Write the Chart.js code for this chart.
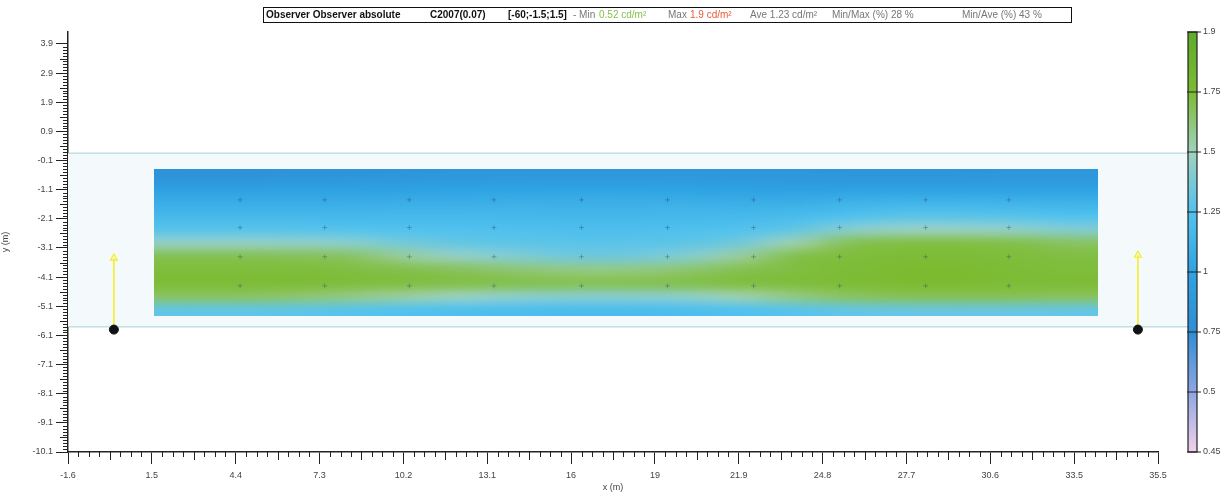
<!DOCTYPE html>
<html>
<head>
<meta charset="utf-8">
<script src="https://cdn.jsdelivr.net/npm/chart.js@4.4.0/dist/chart.umd.min.js"></script>
<style>
  html, body { margin: 0; padding: 0; background: #fff; }
  canvas { display: block; }
</style>
</head>
<body>
<canvas id="lumChart" width="1223" height="495"></canvas>
<script>
// axis ticks
const xTickLabels = ['-1.6', '1.5', '4.4', '7.3', '10.2', '13.1', '16', '19', '21.9', '24.8', '27.7', '30.6', '33.5', '35.5'];
const yTickValues = [3.9, 2.9, 1.9, 0.9, -0.1, -1.1, -2.1, -3.1, -4.1, -5.1, -6.1, -7.1, -8.1, -9.1, -10.1];

// colour scale of the legend bar
const cbValues = [1.9, 1.75, 1.5, 1.25, 1, 0.75, 0.5, 0.45];
const cbLabels = ['1.9', '1.75', '1.5', '1.25', '1', '0.75', '0.5', '0.45'];
const cbColors = ['#5fab2a', '#7cbb31', '#a0d2bd', '#52c2ee', '#2ea3e3', '#2f8dd6', '#8ea6e2', '#f3d0e9'];

// calculation field extent (m)
const fieldX = [1.4, 34.3];
const fieldY = [-0.4, -5.45];

// luminance (cd/m2), rows top -> bottom, 17 columns left -> right
const lumRows = [
  [0.82, 0.82, 0.83, 0.84, 0.85, 0.86, 0.87, 0.88, 0.88, 0.87, 0.86, 0.86, 0.85, 0.85, 0.85, 0.86, 0.86],
  [0.97, 0.97, 0.98, 0.98, 0.99, 1.00, 1.00, 1.01, 1.01, 1.00, 0.99, 0.98, 0.98, 0.99, 0.99, 0.99, 0.99],
  [1.08, 1.08, 1.08, 1.08, 1.09, 1.09, 1.10, 1.10, 1.10, 1.10, 1.09, 1.09, 1.12, 1.14, 1.14, 1.13, 1.12],
  [1.17, 1.17, 1.17, 1.17, 1.17, 1.17, 1.17, 1.16, 1.16, 1.17, 1.17, 1.19, 1.24, 1.28, 1.28, 1.27, 1.25],
  [1.27, 1.27, 1.27, 1.26, 1.25, 1.24, 1.23, 1.22, 1.22, 1.23, 1.25, 1.30, 1.42, 1.47, 1.47, 1.45, 1.40],
  [1.46, 1.46, 1.45, 1.43, 1.36, 1.31, 1.29, 1.28, 1.28, 1.29, 1.35, 1.52, 1.68, 1.71, 1.71, 1.70, 1.66],
  [1.69, 1.69, 1.68, 1.66, 1.56, 1.46, 1.40, 1.35, 1.35, 1.40, 1.55, 1.70, 1.73, 1.74, 1.74, 1.73, 1.72],
  [1.73, 1.73, 1.73, 1.72, 1.70, 1.67, 1.63, 1.60, 1.60, 1.63, 1.69, 1.72, 1.74, 1.75, 1.75, 1.74, 1.73],
  [1.74, 1.74, 1.74, 1.73, 1.72, 1.71, 1.70, 1.69, 1.69, 1.70, 1.72, 1.73, 1.74, 1.75, 1.75, 1.74, 1.74],
  [1.66, 1.66, 1.64, 1.60, 1.55, 1.48, 1.44, 1.42, 1.42, 1.44, 1.52, 1.60, 1.66, 1.68, 1.68, 1.68, 1.67],
  [1.30, 1.30, 1.29, 1.27, 1.25, 1.23, 1.22, 1.21, 1.21, 1.22, 1.24, 1.27, 1.30, 1.32, 1.32, 1.32, 1.31]
];

// calculation grid marks
const gridX = [4.4, 7.35, 10.3, 13.25, 16.3, 19.3, 22.3, 25.3, 28.3, 31.2];
const gridY = [-1.45, -2.4, -3.4, -4.4];

// road edges and observers
const roadEdges = [0.15, -5.8];
const observerX = [0, 35.7];
const observerY = [-5.9, -5.9];
const arrowTipY = [-3.45, -3.35];

const X_MIN = -1.6, X_MAX = 36.4;
const Y_MIN = -10.1, Y_MAX = 4.31;
const FONT = '"Liberation Sans", Arial, sans-serif';

function hexRgb(h) {
  return [parseInt(h.slice(1, 3), 16), parseInt(h.slice(3, 5), 16), parseInt(h.slice(5, 7), 16)];
}

function lumColor(v) {
  if (v >= cbValues[0]) return hexRgb(cbColors[0]);
  for (let i = 0; i < cbValues.length - 1; i++) {
    const hi = cbValues[i], lo = cbValues[i + 1];
    if (v <= hi && v >= lo) {
      const t = (hi - v) / (hi - lo);
      const a = hexRgb(cbColors[i]), b = hexRgb(cbColors[i + 1]);
      return a.map((c, k) => Math.round(c + (b[k] - c) * t));
    }
  }
  return hexRgb(cbColors[cbColors.length - 1]);
}

// small bitmap of the field, one pixel per value, scaled up by drawImage
const fieldImg = document.createElement('canvas');
fieldImg.width = lumRows[0].length;
fieldImg.height = lumRows.length;
(() => {
  const c = fieldImg.getContext('2d');
  const img = c.createImageData(fieldImg.width, fieldImg.height);
  lumRows.forEach((row, r) => {
    row.forEach((v, k) => {
      const rgb = lumColor(v);
      const p = (r * fieldImg.width + k) * 4;
      img.data[p] = rgb[0]; img.data[p + 1] = rgb[1]; img.data[p + 2] = rgb[2]; img.data[p + 3] = 255;
    });
  });
  c.putImageData(img, 0, 0);
})();

const fieldPlugin = {
  id: 'field',
  beforeDatasetsDraw(chart) {
    const { ctx, chartArea, scales: { x, y } } = chart;
    ctx.save();
    // road surface and edges
    const r0 = y.getPixelForValue(roadEdges[0]), r1 = y.getPixelForValue(roadEdges[1]);
    ctx.fillStyle = '#f4fafb';
    ctx.fillRect(chartArea.left, r0, chartArea.right - chartArea.left + 30, r1 - r0);
    ctx.strokeStyle = '#bfe0e4';
    ctx.lineWidth = 1.5;
    ctx.beginPath();
    [r0, r1].forEach(py => {
      ctx.moveTo(chartArea.left + 1, py);
      ctx.lineTo(chartArea.right + 30, py);
    });
    ctx.stroke();
    // luminance field
    const x0 = x.getPixelForValue(fieldX[0]), x1 = x.getPixelForValue(fieldX[1]);
    const y0 = y.getPixelForValue(fieldY[0]), y1 = y.getPixelForValue(fieldY[1]);
    ctx.imageSmoothingEnabled = true;
    ctx.imageSmoothingQuality = 'high';
    ctx.drawImage(fieldImg, x0, y0, x1 - x0, y1 - y0);
    ctx.restore();
  }
};

const decorPlugin = {
  id: 'decor',
  afterDraw(chart) {
    const { ctx, chartArea, scales: { x, y, c } } = chart;
    ctx.save();
    ctx.strokeStyle = '#222';
    ctx.lineWidth = 1;
    // minor ticks x
    const xStep = (X_MAX - X_MIN) / 13;
    ctx.beginPath();
    for (let i = 0; i < 13; i++) {
      for (let j = 1; j < 8; j++) {
        const px = Math.round(x.getPixelForValue(X_MIN + (i + j / 8) * xStep)) + 0.5;
        const len = j === 4 ? 8 : 5;
        ctx.moveTo(px, chartArea.bottom);
        ctx.lineTo(px, chartArea.bottom + len);
      }
    }
    // minor ticks y
    for (let i = 0; i < yTickValues.length - 1; i++) {
      for (let j = 1; j < 10; j++) {
        const py = Math.round(y.getPixelForValue(yTickValues[i] - j / 10)) + 0.5;
        const len = j === 5 ? 8 : 5;
        ctx.moveTo(chartArea.left, py);
        ctx.lineTo(chartArea.left - len, py);
      }
    }
    ctx.stroke();

    // colour bar
    const bx = chartArea.right + 30, bw = 9;
    const top = c.getPixelForValue(0), bot = c.getPixelForValue(cbValues.length - 1);
    const g = ctx.createLinearGradient(0, top, 0, bot);
    cbColors.forEach((col, i) => g.addColorStop(i / (cbColors.length - 1), col));
    ctx.fillStyle = g;
    ctx.fillRect(bx, top, bw, bot - top);
    ctx.strokeStyle = '#222';
    ctx.lineWidth = 1.2;
    ctx.strokeRect(bx, top, bw, bot - top);
    ctx.beginPath();
    cbValues.forEach((v, i) => {
      const py = c.getPixelForValue(i);
      ctx.moveTo(bx - 1, py);
      ctx.lineTo(bx + bw + 4, py);
    });
    ctx.stroke();

    // header box
    ctx.fillStyle = '#fff';
    ctx.fillRect(263, 7, 808, 15);
    ctx.strokeStyle = '#111';
    ctx.lineWidth = 1;
    ctx.strokeRect(263.5, 7.5, 808, 15);
    ctx.textBaseline = 'middle';
    const parts = [
      { t: 'Observer Observer absolute', x: 266, bold: true, col: '#111' },
      { t: 'C2007(0.07)', x: 430, bold: true, col: '#111' },
      { t: '[-60;-1.5;1.5]', x: 508, bold: true, col: '#111' },
      { t: '- Min', x: 573, col: '#777' },
      { t: '0.52 cd/m²', x: 599, col: '#86c24a' },
      { t: 'Max', x: 668, col: '#777' },
      { t: '1.9 cd/m²', x: 690, col: '#ea5a35' },
      { t: 'Ave 1.23 cd/m²', x: 750, col: '#777' },
      { t: 'Min/Max (%) 28 %', x: 832, col: '#777' },
      { t: 'Min/Ave (%) 43 %', x: 962, col: '#777' }
    ];
    parts.forEach(p => {
      ctx.font = (p.bold ? 'bold ' : '') + '10px ' + FONT;
      ctx.fillStyle = p.col;
      ctx.fillText(p.t, p.x, 15);
    });
    ctx.restore();
  }
};

const crossPoints = [];
gridY.forEach(gy => gridX.forEach(gx => crossPoints.push({ x: gx, y: gy })));

const datasets = [
  {
    type: 'scatter',
    label: 'Grid',
    data: crossPoints,
    pointStyle: 'cross',
    pointRadius: 2.5,
    borderColor: 'rgba(30,60,90,0.3)',
    borderWidth: 1,
    order: 0
  },
  {
    type: 'scatter',
    label: 'Observers',
    data: observerX.map((ox, i) => ({ x: ox, y: observerY[i] })),
    pointStyle: 'circle',
    pointRadius: 4.5,
    backgroundColor: '#111',
    borderColor: '#111',
    order: 0
  }
];
observerX.forEach((ox, i) => {
  datasets.push({
    type: 'line',
    label: 'Direction ' + (i + 1),
    data: [{ x: ox, y: observerY[i] }, { x: ox, y: arrowTipY[i] }],
    borderColor: '#f2ee1c',
    borderWidth: 1.5,
    pointStyle: 'triangle',
    pointRadius: [0, 4],
    pointBackgroundColor: 'rgba(0,0,0,0)',
    pointBorderColor: '#f2ee1c',
    pointBorderWidth: 1.2,
    order: 2
  });
});

// keep the plot area exactly where the axes are, no label overhang padding
const noPad = s => { s.paddingTop = 0; s.paddingBottom = 0; };

new Chart(document.getElementById('lumChart'), {
  type: 'scatter',
  data: { datasets },
  plugins: [fieldPlugin, decorPlugin],
  options: {
    responsive: false,
    animation: false,
    devicePixelRatio: 1,
    layout: { padding: { top: 32, left: 0, right: 0, bottom: 0 } },
    plugins: {
      legend: { display: false },
      tooltip: { enabled: false }
    },
    scales: {
      x: {
        type: 'linear',
        min: X_MIN,
        max: X_MAX,
        afterBuildTicks: s => {
          s.ticks = xTickLabels.map((_, i) => ({ value: X_MIN + i * (X_MAX - X_MIN) / 13 }));
        },
        afterFit: s => { s.height = 43; s.paddingLeft = 0; s.paddingRight = 0; },
        ticks: {
          callback: (v, i) => xTickLabels[i],
          autoSkip: false,
          maxRotation: 0,
          padding: 6,
          color: '#444',
          font: { family: FONT, size: 9 }
        },
        grid: { drawOnChartArea: false, drawTicks: true, tickLength: 12, color: '#222' },
        border: { display: true, color: '#222', width: 1.5 },
        title: { display: true, text: 'x (m)', color: '#444', font: { family: FONT, size: 9 }, padding: { top: 0, bottom: 2 } }
      },
      y: {
        type: 'linear',
        min: Y_MIN,
        max: Y_MAX,
        afterBuildTicks: s => {
          s.ticks = yTickValues.map(v => ({ value: v }));
        },
        afterFit: s => { s.width = 68; noPad(s); },
        ticks: {
          callback: v => v.toFixed(1),
          autoSkip: false,
          padding: 3,
          color: '#444',
          font: { family: FONT, size: 9 }
        },
        grid: { drawOnChartArea: false, drawTicks: true, tickLength: 12, color: '#222' },
        border: { display: true, color: '#222', width: 1.5 },
        title: { display: true, text: 'y (m)', color: '#444', font: { family: FONT, size: 9 }, padding: { top: 0, bottom: 4 } }
      },
      c: {
        type: 'linear',
        axis: 'y',
        position: 'right',
        reverse: true,
        min: 0,
        max: cbValues.length - 1,
        afterBuildTicks: s => {
          s.ticks = cbLabels.map((_, i) => ({ value: i }));
        },
        afterFit: s => { s.width = 65; noPad(s); },
        ticks: {
          callback: (v, i) => cbLabels[i],
          autoSkip: false,
          padding: 45,
          color: '#444',
          font: { family: FONT, size: 9 }
        },
        grid: { display: false, drawTicks: false },
        border: { display: false }
      }
    }
  }
});
</script>
</body>
</html>
